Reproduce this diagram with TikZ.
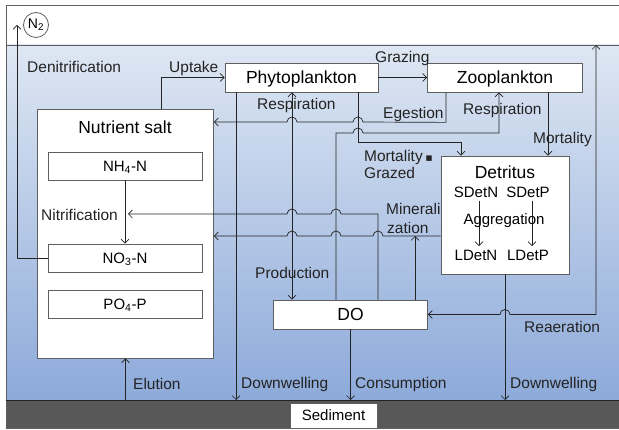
\documentclass[tikz,border=0pt]{standalone}
\usepackage{fontspec}
\setmainfont{Liberation Sans}
\newfontfamily\symb{DejaVu Sans}
\usetikzlibrary{arrows.meta}

\definecolor{watertop}{RGB}{222,231,243}
\definecolor{waterbot}{RGB}{141,170,218}
\definecolor{mud}{RGB}{88,88,88}
\definecolor{edge}{RGB}{95,95,95}
\definecolor{ink}{RGB}{35,35,35}

\tikzset{
  box/.style={draw=edge, fill=white, line width=0.8pt, inner sep=0pt},
  titlefont/.style={font=\fontsize{17.5}{20}\selectfont, text height=12.5pt, text depth=0pt},
  boxfont/.style={font=\fontsize{15}{18}\selectfont, text height=10.7pt, text depth=0pt},
  lbl/.style={font=\fontsize{15.5}{19}\selectfont, inner sep=0pt, anchor=west, text=ink,
    text height=11pt, text depth=0pt},
  flow/.style={->, draw=ink, line width=0.7pt},
}

\begin{document}
\begin{tikzpicture}[x=1pt, y=-1pt, >={Straight Barb[length=4pt,width=8pt]}]
    \useasboundingbox (0,0) rectangle (619,430);
    % Water column, surface and bed
    \fill[white] (0,0) rectangle (619,430);
    \shade[top color=watertop, bottom color=waterbot] (6,45) rectangle (619,400);
    \fill[mud] (6,400) rectangle (619,428);
    \draw[edge, line width=0.8pt] (619,5) -- (6,5) -- (6,428) -- (619,428);
    \draw[edge, line width=0.8pt] (6,45) -- (619,45);
    \draw[ink, line width=0.8pt] (6,400) -- (619,400);

    % Free ends of connectors
    \coordinate (bed) at (0,400);
    \coordinate (dwP) at (236,400);
    \coordinate (den) at (17,25);
    \coordinate (surf) at (596,45);
    \coordinate (nit) at (125,214);
    \coordinate (mine) at (415,236);

    % N2 in the air
    \node[box, circle, minimum size=25, font=\fontsize{14}{16}\selectfont] (n2) at (36,25) {N\textsubscript{2}};

    % Nutrient salt (3 pools)
    \node[box, minimum width=176, minimum height=249] (nut) at (125.5,233.5) {};
    \node[titlefont] (nuttitle) at (125,127) {Nutrient salt};
    \node[box, boxfont, minimum width=154, minimum height=28] (nh4) at (125,166) {NH\textsubscript{4}-N};
    \node[box, boxfont, minimum width=154, minimum height=28] (no3) at (125,258) {NO\textsubscript{3}-N};
    \node[box, boxfont, minimum width=154, minimum height=28] (po4) at (125,304) {PO\textsubscript{4}-P};

    % Plankton
    \node[box, titlefont, minimum width=153, minimum height=29] (phyto) at (301.5,77.5) {Phytoplankton};
    \node[box, titlefont, minimum width=155, minimum height=29] (zoo) at (505,77.5) {Zooplankton};

    % Detritus (small and large)
    \node[box, minimum width=128, minimum height=118] (det) at (505,215) {};
    \node[titlefont] (dettitle) at (505,172) {Detritus};
    \node[boxfont] (sdetn) at (476,192) {SDetN};
    \node[boxfont] (sdetp) at (528,192) {SDetP};
    \node[boxfont] (ldetn) at (476,255) {LDetN};
    \node[boxfont] (ldetp) at (528,255) {LDetP};
    \draw[flow] ([xshift=3pt]sdetn.south) -- ([xshift=3pt]ldetn.north);
    \draw[flow] ([xshift=4pt]sdetp.south) -- ([xshift=4pt]ldetp.north);
    \node[boxfont] (aggr) at (504,219) {Aggregation};

    % DO and sediment
    \node[box, titlefont, minimum width=154, minimum height=29] (do) at (350.5,314.5) {DO};
    \node[box, boxfont, minimum width=87, minimum height=25] (sed) at (333.5,415.5) {Sediment};

    % Uptake and grazing
    \draw[flow] ([xshift=35.5pt]nut.north) |- (phyto.west);
    \draw[flow] (phyto) -- (zoo);

    % Phytoplankton <-> DO
    \draw[flow, <->] ([xshift=-9.5pt]phyto.south) -- ([xshift=-58.5pt]do.north);

    % Downwelling, consumption, elution
    \draw[flow] (phyto.south -| dwP) -- (dwP);
    \draw[flow] (det.south) -- (det.south |- bed);
    \draw[flow] (do.south) -- (do.south |- bed);
    \draw[flow] (bed -| nut.south) -- (nut.south);

    % Egestion
    \draw[flow] ([xshift=-59pt]zoo.south) -- ++(0,30) -- (363,122)
        arc[start angle=0, end angle=180, radius=5pt] -- (297,122)
        arc[start angle=0, end angle=180, radius=5pt] -- (nut.east |- 0,122);

    % Zooplankton respiration
    \draw[flow] ([xshift=-14.5pt]do.north) -- (336,133) -- (353,133)
        arc[start angle=180, end angle=0, radius=5pt] -- (499,133) -- ([xshift=-6pt]zoo.south);

    % Mortality
    \draw[flow] ([xshift=56.5pt]phyto.south) -- ++(0,50) -| ([xshift=-44pt]det.north);
    \draw[flow] ([xshift=43pt]zoo.south) -- ([xshift=43pt]det.north);

    % Nitrification
    \draw[flow] (nh4) -- (no3);
    \draw[flow, shorten >=3pt] ([xshift=27.5pt]do.north) -- (378,214) -- (341,214)
        arc[start angle=0, end angle=180, radius=5pt] -- (297,214)
        arc[start angle=0, end angle=180, radius=5pt] -- (nit);

    % Mineralization
    \draw[flow] (det.west |- mine) -- (383,236)
        arc[start angle=0, end angle=180, radius=5pt] -- (341,236)
        arc[start angle=0, end angle=180, radius=5pt] -- (297,236)
        arc[start angle=0, end angle=180, radius=5pt] -- (nut.east |- mine);
    \draw[flow] (do.north -| mine) -- (mine);

    % Denitrification
    \draw[flow] (no3.west) -| (den);

    % Reaeration
    \draw[flow, <->] (surf) -- (surf |- do.east) -- (510,314.5)
        arc[start angle=0, end angle=180, radius=5pt] -- (do.east);

    % Labels
    \node[lbl] (ldenit) at (27,67) {Denitrification};
    \node[lbl] (luptake) at (169,67) {Uptake};
    \node[lbl] (lgraz) at (375,57) {Grazing};
    \node[lbl] (lresp1) at (257,104) {Respiration};
    \node[lbl] (leges) at (383,113) {Egestion};
    \node[lbl] (lresp2) at (463,109) {Respiration};
    \node[lbl] (lmort) at (533,138) {Mortality};
    \node[lbl] (lmortg) at (364,156) {Mortality\,{\symb\fontsize{11}{12}\selectfont ▪}};
    \node[lbl] (lgrazed) at (364,173) {Grazed};
    \node[lbl] (lnitr) at (41,215) {Nitrification};
    \node[lbl] (lmin1) at (386,209) {Minerali};
    \node[lbl] (lmin2) at (387,228) {zation};
    \node[lbl] (lprod) at (255,273) {Production};
    \node[lbl] (lreaer) at (524,327) {Reaeration};
    \node[lbl] (lelut) at (133,384) {Elution};
    \node[lbl] (ldown1) at (241,383) {Downwelling};
    \node[lbl] (lcons) at (355,383) {Consumption};
    \node[lbl] (ldown2) at (510,383) {Downwelling};
\end{tikzpicture}
\end{document}
